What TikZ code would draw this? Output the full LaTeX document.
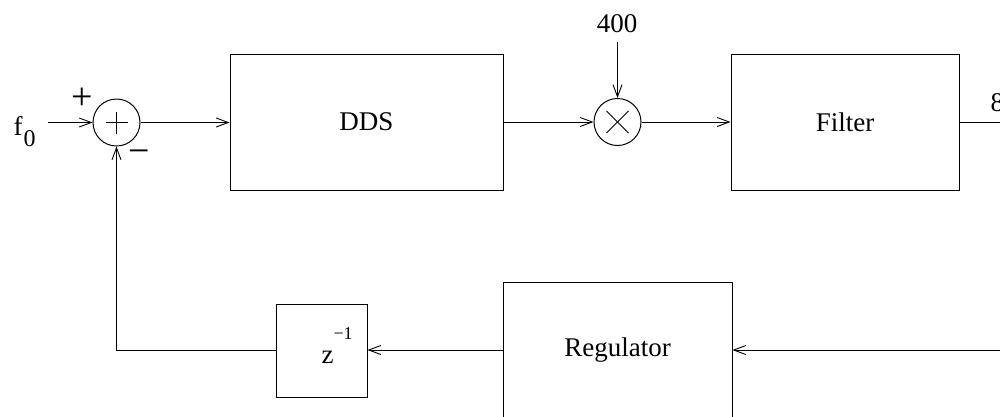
\documentclass[tikz,border=0pt]{standalone}
\usepackage{fontspec}
\setmainfont{Liberation Serif}
\usetikzlibrary{arrows.meta}
\begin{document}
\begin{tikzpicture}[x=1pt,y=-1pt,
  line width=1pt,
  >={Straight Barb[length=12pt,width=9pt,line width=0.9pt]},
  blockbox/.style={draw,rectangle,inner sep=0pt,font=\fontsize{27}{30}\selectfont},
  junction/.style={draw,circle,inner sep=0pt,minimum size=47pt},
  lbl/.style={inner sep=0pt,font=\fontsize{27}{30}\selectfont},
  signlbl/.style={inner sep=0pt,font=\fontsize{38}{40}\selectfont}]
\useasboundingbox (0,0) rectangle (1000,416);
% blocks
\node[blockbox,minimum width=273pt,minimum height=136pt] (dds) at (366.5,122) {DDS};
\node[blockbox,minimum width=228pt,minimum height=136pt] (filter) at (845,122) {Filter};
\node[blockbox,minimum width=229pt,minimum height=136pt] (reg) at (617.5,350) {Regulator};
\node[blockbox,minimum width=91pt,minimum height=93pt] (zd) at (321.5,350.5) {};
\node[lbl,anchor=base west] (zt) at (321,363) {z};
\node[inner sep=0pt,anchor=base west,font=\fontsize{18}{20}\selectfont] (zexp) at (333,339) {−1};
% junctions
\node[junction] (sum) at (116.5,122.5) {};
\draw (sum.center) ++(-11,0) -- ++(22,0);
\draw (sum.center) ++(0,-11) -- ++(0,22);
\node[junction] (mul) at (617.5,122) {};
\draw (mul.center) ++(-11,-11) -- ++(22,22);
\draw (mul.center) ++(-11,11) -- ++(22,-22);
% labels
\node[lbl,anchor=base west] (f) at (13,135) {f};
\node[inner sep=0pt,anchor=base west,font=\fontsize{24}{28}\selectfont] (fsub) at (23,146) {0};
\node[signlbl] (plus) at (82,99) {+};
\node[signlbl] (minus) at (139,157) {−};
\node[lbl,anchor=base] (four) at (617,32) {400};
\node[lbl,anchor=base west] (eight) at (990,111) {8};
% free ends
\coordinate (fin) at (48,122.5);
\coordinate (top) at (617.5,42);
\coordinate (outr) at (1005,122);
\coordinate (inr) at (1005,350);
% connectors
\draw[->] (fin) -- (sum.west);
\draw[->] (sum.east) -- (sum.east -| dds.west);
\draw[->] (dds.east |- mul.west) -- (mul.west);
\draw[->] (top) -- (mul.north);
\draw[->] (mul.east) -- (mul.east -| filter.west);
\draw (filter.east) -- (outr);
\draw[->] (inr) -- (reg.east);
\draw[->] (reg.west) -- (zd.east |- reg.west);
\draw[->] (zd.west |- reg.west) -| (sum.south);
\end{tikzpicture}
\end{document}
